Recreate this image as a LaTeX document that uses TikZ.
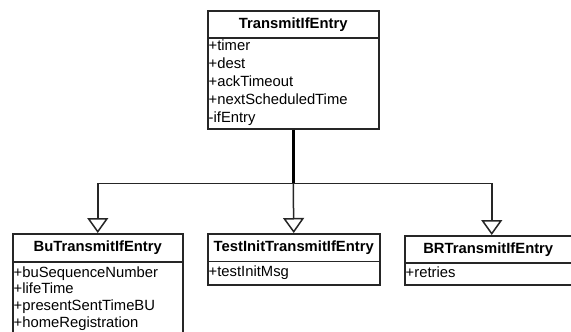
\documentclass[tikz,border=0pt]{standalone}
\usepackage{fontspec}
\setmainfont{Liberation Sans}
\usetikzlibrary{arrows.meta,shadows,calc}
\begin{document}
\begin{tikzpicture}[x=1pt,y=-1pt,
  box/.style={draw=black!85, line width=1.5pt, fill=white, inner sep=0pt,
    anchor=north west,
    general shadow={fill=black!25, shadow xshift=1.5pt, shadow yshift=-1.5pt}},
  classname/.style={font=\fontsize{14.8}{17}\selectfont\bfseries},
  attr/.style={font=\fontsize{14.8}{17}\selectfont, anchor=base west, inner sep=0pt},
  link/.style={draw=black!85, line width=1.5pt},
  trunk/.style={draw=black, line width=3pt},
  gen/.style={link, -{Triangle[open, length=15pt, width=21pt, line width=1.5pt]}}
]
\useasboundingbox (0,0) rectangle (571,332);

% superclass
\node[box, classname, minimum width=171pt, minimum height=27pt] (topH) at (207,10) {TransmitIfEntry};
\node[box, minimum width=171pt, minimum height=91pt] (topB) at (207,37) {};
\foreach \t [count=\i] in {+timer,+dest,+ackTimeout,+nextScheduledTime,-ifEntry}
  \node[attr] (topA\i) at ($(topB.north west)+(1.5,13.5+18*\i-18)$) {\t};

% subclass BuTransmitIfEntry
\node[box, classname, minimum width=170pt, minimum height=28pt] (buH) at (12,233) {BuTransmitIfEntry};
\node[box, minimum width=170pt, minimum height=90pt] (buB) at (12,261) {};
\foreach \t [count=\i] in {+buSequenceNumber,+lifeTime,+presentSentTimeBU,+homeRegistration}
  \node[attr] (buA\i) at ($(buB.north west)+(1.5,16+16.8*\i-16.8)$) {\t};

% subclass TestInitTransmitIfEntry
\node[box, classname, minimum width=172pt, minimum height=27.5pt] (tiH) at (207,233) {TestInitTransmitIfEntry};
\node[box, minimum width=172pt, minimum height=23.5pt] (tiB) at (207,260.5) {};
\node[attr] (tiA1) at ($(tiB.north west)+(1.5,16)$) {+testInitMsg};

% subclass BRTransmitIfEntry
\node[box, classname, minimum width=167pt, minimum height=27pt] (brH) at (404,235) {BRTransmitIfEntry};
\node[box, minimum width=167pt, minimum height=22pt] (brB) at (404,262) {};
\node[attr] (brA1) at ($(brB.north west)+(1.5,15.5)$) {+retries};

% generalization tree
\coordinate (j) at ($(topB.south)+(0,54)$);
\draw[trunk] (topB.south) -- (j);
\draw[gen] (j) -| (buH.north);
\draw[gen] (j) -- (tiH.north);
\draw[gen] (j) -| ($(brH.north)+(3.5,0)$);
\end{tikzpicture}
\end{document}
